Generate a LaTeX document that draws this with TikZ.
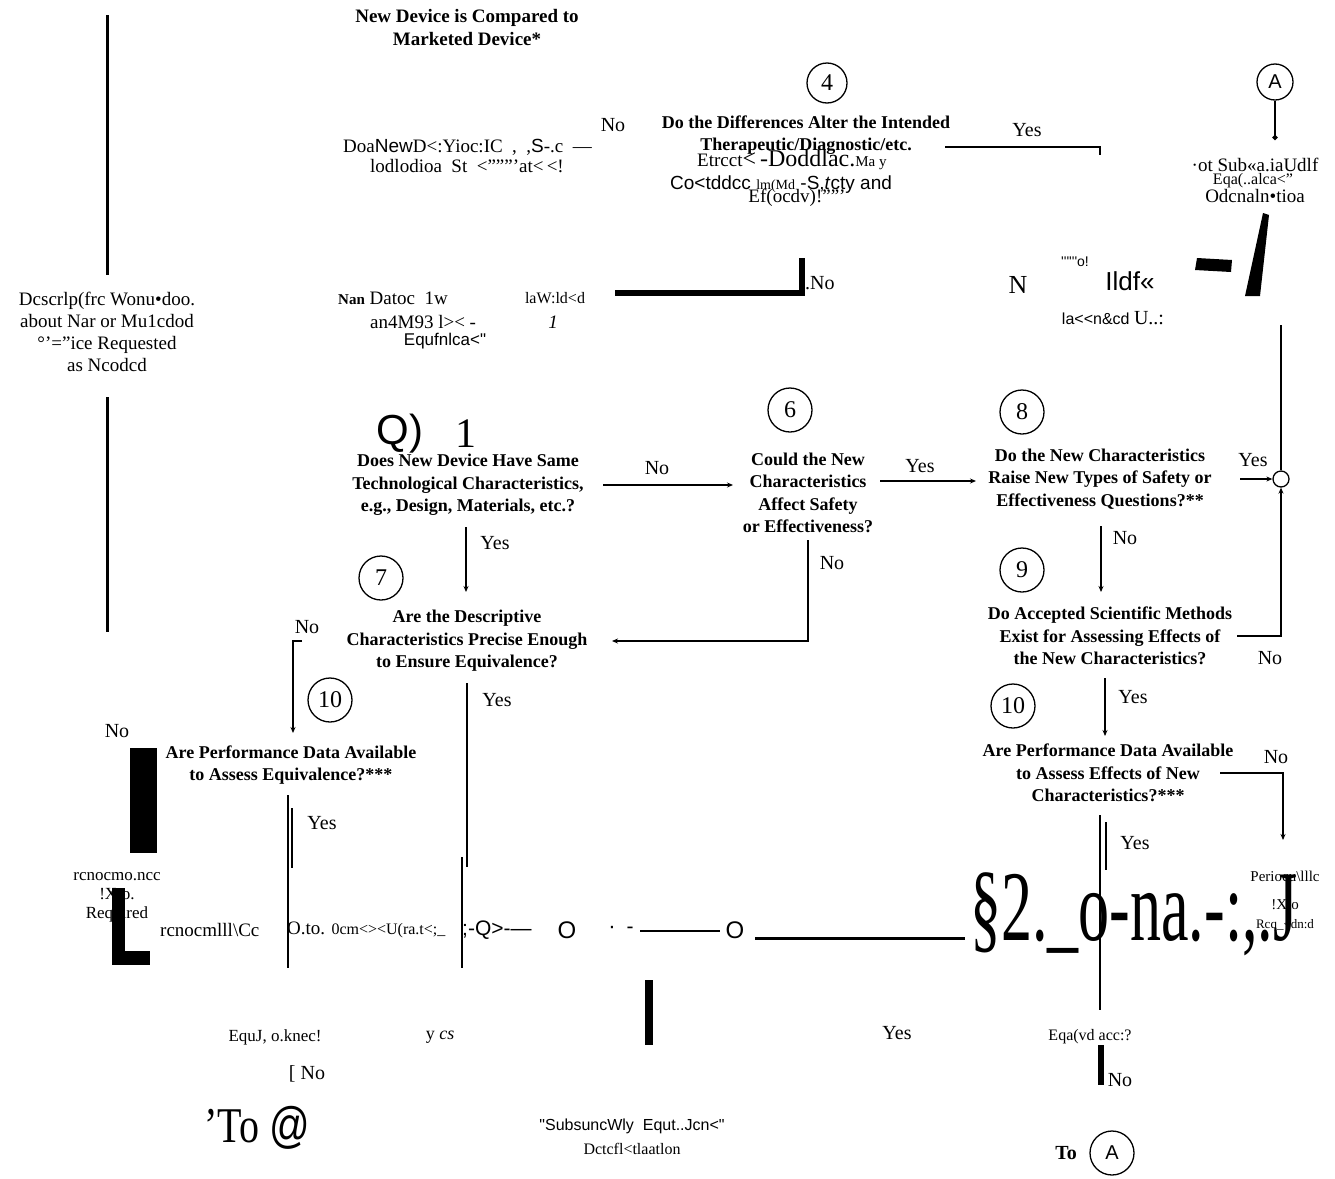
\documentclass[tikz,border=0pt]{standalone}
\usepackage{fontspec}
\setmainfont{Liberation Serif}
\newfontfamily\arial{Liberation Sans}
\usetikzlibrary{arrows.meta}
\tikzset{
  q/.style={font=\fontsize{18}{22.5}\selectfont\bfseries, align=center, inner sep=0pt},
  o/.style={font=\fontsize{19}{22}\selectfont, inner sep=0pt, align=center},
  yn/.style={font=\fontsize{20}{22}\selectfont, inner sep=0pt},
  num/.style={circle, draw, line width=1.3pt, minimum size=44pt, inner sep=0pt, font=\fontsize{24}{24}\selectfont},
  ln/.style={line width=1.3pt},
  arr/.style={ln, -{Stealth[length=6pt,width=5pt]}},
  heavy/.style={line width=3pt},
}
\begin{document}
\begin{tikzpicture}[x=1pt,y=-1pt]
\useasboundingbox[fill=white] (0,0) rectangle (1335,1178);

% ---------- top ----------
\node[q, font=\fontsize{19}{23}\selectfont\bfseries] (top) at (467,27) {New Device is Compared to\\Marketed Device*};
\node[num, minimum size=40pt] (c4) at (827,83) {4};
\node[yn] (no4) at (613,125) {No};
\node[o, anchor=west] (t4a) at (343,147) {Doa{\arial New}D<:Yioc:IC \ , \ ,{\arial S}-.c \ —};
\node[o, anchor=west] (t4b) at (370,166) {lodlodioa \ St \ <\char34\char34\char34\char39 at<\,<!};
\node[q] (q4) at (806,135) {Do the Differences Alter the Intended\\Therapeutic/Diagnostic/etc.};
\node[o, anchor=west] (t4c) at (697,160) {Etrcct{\fontsize{24}{24}\selectfont<\,-Doddlac.}{\fontsize{15}{15}\selectfont Ma y}};
\node[font=\arial\fontsize{19}{19}\selectfont, anchor=west, inner sep=0pt] (t4d) at (670,185) {Co<tddcc {\rmfamily\fontsize{14}{14}\selectfont lm(Md} -S,\textit{t}cty and};
\node[o] (t4e) at (797,198) {Ef(ocdv)!\char34\char34\char39};
\coordinate (y4s) at (945,147);
\coordinate (y4c) at (1100,147);
\coordinate (y4e) at (1100,155);
\draw[ln] (y4s) -- (y4c) -- (y4e);
\node[yn] (yes4) at (1027,130) {Yes};

% ---------- A ----------
\node[num, minimum size=36pt, font=\arial\fontsize{20}{20}\selectfont] (cA) at (1275,82) {A};
\coordinate (cAend) at (1275,140);
\draw[line width=2pt, -{Circle[length=5pt]}] (cA) -- (cAend);
\node[o] (tA1) at (1255,165) {·ot Sub«a.iaUdlf};
\node[o, font=\fontsize{16}{16}\selectfont] (tA2) at (1253,181) {Eqa(..alca<\char34};
\node[o] (tA3) at (1255,196) {Odcnaln•tioa};
\fill (1197,258) -- (1232,260) -- (1231,272) -- (1195,270) -- cycle;
\fill (1245,296) -- (1260,296) -- (1269,215) -- (1263,213) -- cycle;

% ---------- N block ----------
\node[font=\fontsize{26}{26}\selectfont, inner sep=0pt] (tN) at (1018,285) {N};
\node[font=\arial\fontsize{14}{14}\selectfont, inner sep=0pt] (tN2) at (1075,262) {\char39\char39\char39\char39\char39\char39 o!};
\node[font=\arial\fontsize{26}{26}\selectfont, inner sep=0pt] (tN3) at (1130,281) {Ildf«};
\node[font=\arial\fontsize{16}{16}\selectfont, inner sep=0pt] (tN4) at (1113,318) {la<{}<n\&cd {\rmfamily\fontsize{20}{20}\selectfont U..:}};

% ---------- thick bars ----------
\fill (615,290) rectangle (800,296);
\fill (799,258) rectangle (805,296);
\node[yn, anchor=west] (no5) at (805,283) {.No};

% ---------- left block ----------
\node[o] (desc) at (107,332) {Dcscrlp(frc Wonu•doo.\\about Nar or Mu1cdod\\°\char39=\char34ice Requested\\as Ncodcd};
\coordinate (L1a) at (107,15);
\coordinate (L1b) at (107,275);
\coordinate (L2a) at (107,397);
\coordinate (L2b) at (107,632);
\draw[heavy] (L1a) -- (L1b);
\draw[heavy] (L2a) -- (L2b);

\node[o, anchor=west] (t5a) at (338,298) {{\bfseries\fontsize{15}{15}\selectfont Nan} Datoc \ 1w};
\node[o, font=\fontsize{16}{16}\selectfont] (t5b) at (555,298) {laW:ld<d};
\node[o, anchor=west] (t5c) at (370,322) {an4M93 l><\ -};
\node[o] (t5d) at (553,322) {\textit{1}};
\node[font=\arial\fontsize{17}{17}\selectfont, inner sep=0pt] (t5e) at (445,341) {Equfnlca<\char34};

\node[font=\arial\fontsize{42}{42}\selectfont, inner sep=0pt] (tQ) at (400,434) {Q)};
\node[font=\fontsize{42}{42}\selectfont, inner sep=0pt] (t1) at (466,434) {1};

% ---------- question row ----------
\node[num] (c6) at (790,410) {6};
\node[num] (c8) at (1022,412) {8};
\node[q] (q5) at (468,485) {Does New Device Have Same\\Technological Characteristics,\\e.g., Design, Materials, etc.?};
\node[q] (q6) at (808,493) {Could the New\\Characteristics\\Affect Safety\\or Effectiveness?};
\node[q] (q8) at (1100,479) {Do the New Characteristics\\Raise New Types of Safety or\\Effectiveness Questions?**};

\coordinate (a56s) at (603,485);
\coordinate (a56e) at (733,485);
\draw[arr] (a56s) -- (a56e);
\node[yn] (no56) at (657,468) {No};
\coordinate (a68s) at (880,481);
\coordinate (a68e) at (976,481);
\draw[arr] (a68s) -- (a68e);
\node[yn] (yes68) at (920,466) {Yes};

\node[circle, draw, ln, minimum size=16pt, inner sep=0pt] (jc) at (1281,479) {};
\coordinate (a8js) at (1240,479);
\draw[arr] (a8js) -- (jc.west);
\node[yn] (yes8) at (1253,460) {Yes};
\coordinate (jtop) at (1281,325);
\draw[line width=2pt] (jtop) -- (jc.north);

% ---------- 7 ----------
\coordinate (a57s) at (466,527);
\coordinate (a57e) at (466,592);
\draw[arr] (a57s) -- (a57e);
\node[yn] (yes57) at (495,543) {Yes};
\node[num] (c7) at (381,578) {7};
\node[q] (q7) at (467,641) {Are the Descriptive\\Characteristics Precise Enough\\to Ensure Equivalence?};
\coordinate (a67s) at (808,540);
\coordinate (a67c) at (808,641);
\coordinate (a67e) at (612,641);
\draw[arr] (a67s) -- (a67c) -- (a67e);
\node[yn] (no67) at (832,563) {No};
\coordinate (a710s) at (302,641);
\coordinate (a710c) at (293,641);
\coordinate (a710e) at (293,733);
\draw[arr] (a710s) -- (a710c) -- (a710e);
\node[yn] (no710) at (307,627) {No};
\coordinate (y7a) at (467,683);
\coordinate (y7b) at (467,867);
\draw[line width=2.5pt] (y7a) -- (y7b);
\coordinate (y7c) at (462,857);
\coordinate (y7d) at (462,968);
\draw[line width=2pt] (y7c) -- (y7d);
\node[yn] (yes7) at (497,700) {Yes};

% ---------- 10 left ----------
\node[num] (c10a) at (330,700) {10};
\node[q] (q10a) at (291,765) {Are Performance Data Available\\to Assess Equivalence?***};
\fill (130,748) rectangle (157,853);
\node[yn] (no10a) at (117,731) {No};
\coordinate (y10a) at (288,795);
\coordinate (y10b) at (288,968);
\draw[line width=2pt] (y10a) -- (y10b);
\coordinate (y10c) at (292,808);
\coordinate (y10d) at (292,868);
\draw[ln] (y10c) -- (y10d);
\node[yn] (yes10a) at (322,823) {Yes};
\node[o, font=\fontsize{17}{19}\selectfont] (pd1) at (117,897) {rcnocmo.ncc\\!Xto.\\Required};
\fill (112,888) rectangle (125,965);
\fill (112,951) rectangle (150,965);

% ---------- bottom row ----------
\node[o, font=\fontsize{19}{19}\selectfont, anchor=west] (r1) at (160,930) {rcnocmlll\textbackslash Cc};
\node[o, font=\fontsize{19}{19}\selectfont, anchor=west] (r2) at (287,930) {O.to. {\fontsize{16}{16}\selectfont 0cm<{}><U(ra.t<;\_}};
\node[font=\arial\fontsize{21}{21}\selectfont, anchor=west, inner sep=0pt] (r3) at (462,930) {;-Q>-—};
\node[font=\arial\fontsize{24}{24}\selectfont, inner sep=0pt] (r4) at (567,930) {O};
\node[font=\arial\fontsize{22}{22}\selectfont, inner sep=0pt] (r5) at (612,930) {·};
\node[font=\arial\fontsize{21}{21}\selectfont, inner sep=0pt] (r6) at (630,930) {-};
\coordinate (r7a) at (640,931);
\coordinate (r7b) at (720,931);
\draw[line width=2pt] (r7a) -- (r7b);
\node[font=\arial\fontsize{24}{24}\selectfont, inner sep=0pt] (r8) at (735,930) {O};
\coordinate (r9a) at (755,938);
\coordinate (r9b) at (965,938);
\draw[line width=3pt] (r9a) -- (r9b);
\node[anchor=base west, inner sep=0pt] (big) at (970,940) {\fontsize{100}{100}\selectfont\scalebox{0.62}[1]{§2.\_o-na.-:,.J}};

% ---------- 9 / 10 right ----------
\coordinate (a89s) at (1101,526);
\coordinate (a89e) at (1101,592);
\draw[arr] (a89s) -- (a89e);
\node[yn] (no89) at (1125,538) {No};
\node[num] (c9) at (1022,570) {9};
\node[q] (q9) at (1110,636) {Do Accepted Scientific Methods\\Exist for Assessing Effects of\\the New Characteristics?};
\coordinate (a9js) at (1237,636);
\coordinate (a9jc) at (1281,636);
\draw[arr] (a9js) -- (a9jc) -- (jc.south);
\node[yn] (no9) at (1270,658) {No};
\coordinate (a910s) at (1105,678);
\coordinate (a910e) at (1105,736);
\draw[arr] (a910s) -- (a910e);
\node[yn] (yes9) at (1133,697) {Yes};
\node[num] (c10b) at (1013,706) {10};
\node[q] (q10b) at (1108,773) {Are Performance Data Available\\to Assess Effects of New\\Characteristics?***};
\coordinate (a10ns) at (1220,773);
\coordinate (a10nc) at (1283,773);
\coordinate (a10ne) at (1283,840);
\draw[arr] (a10ns) -- (a10nc) -- (a10ne);
\node[yn] (no10b) at (1276,757) {No};
\coordinate (v10a) at (1100,815);
\coordinate (v10b) at (1100,1010);
\draw[line width=2.5pt] (v10a) -- (v10b);
\coordinate (v10c) at (1106,822);
\coordinate (v10d) at (1106,870);
\draw[ln] (v10c) -- (v10d);
\node[yn] (yes10b) at (1135,843) {Yes};
\node[o, font=\fontsize{15}{15}\selectfont] (pr1) at (1285,876) {Periocu\textbackslash lllc};
\node[o, font=\fontsize{15}{15}\selectfont] (pr2) at (1285,905) {!Xto};
\node[o, font=\fontsize{13}{13}\selectfont] (pr3) at (1285,925) {Rcq\_<dn:d};

% ---------- bottom texts ----------
\fill (645,980) rectangle (653,1045);
\node[o, font=\fontsize{17}{17}\selectfont] (b1) at (275,1037) {EquJ, o.knec!};
\node[o, font=\fontsize{18}{18}\selectfont] (b2) at (440,1037) {y \textit{cs}};
\node[yn] (b3) at (307,1074) {[ No};
\node[inner sep=0pt] (to1) at (257,1128) {\fontsize{50}{50}\selectfont\scalebox{0.8}[1]{\char39 To {\arial @}}};
\node[font=\arial\fontsize{16}{16}\selectfont, inner sep=0pt] (b4) at (632,1126) {\char34 SubsuncWly \ Equt..Jcn<\char34};
\node[o, font=\fontsize{16}{16}\selectfont] (b5) at (632,1149) {Dctcfl<tlaatlon};
\node[yn] (b6) at (897,1033) {Yes};
\node[o, font=\fontsize{16}{16}\selectfont] (b7) at (1090,1037) {Eqa(vd acc:?};
\fill (1098,1045) rectangle (1104,1085);
\node[yn] (b8) at (1120,1080) {No};
\node[font=\bfseries\fontsize{20}{20}\selectfont, inner sep=0pt] (to2) at (1066,1153) {To};
\node[num, font=\arial\fontsize{20}{20}\selectfont] (cA2) at (1112,1153) {A};
\end{tikzpicture}
\end{document}
